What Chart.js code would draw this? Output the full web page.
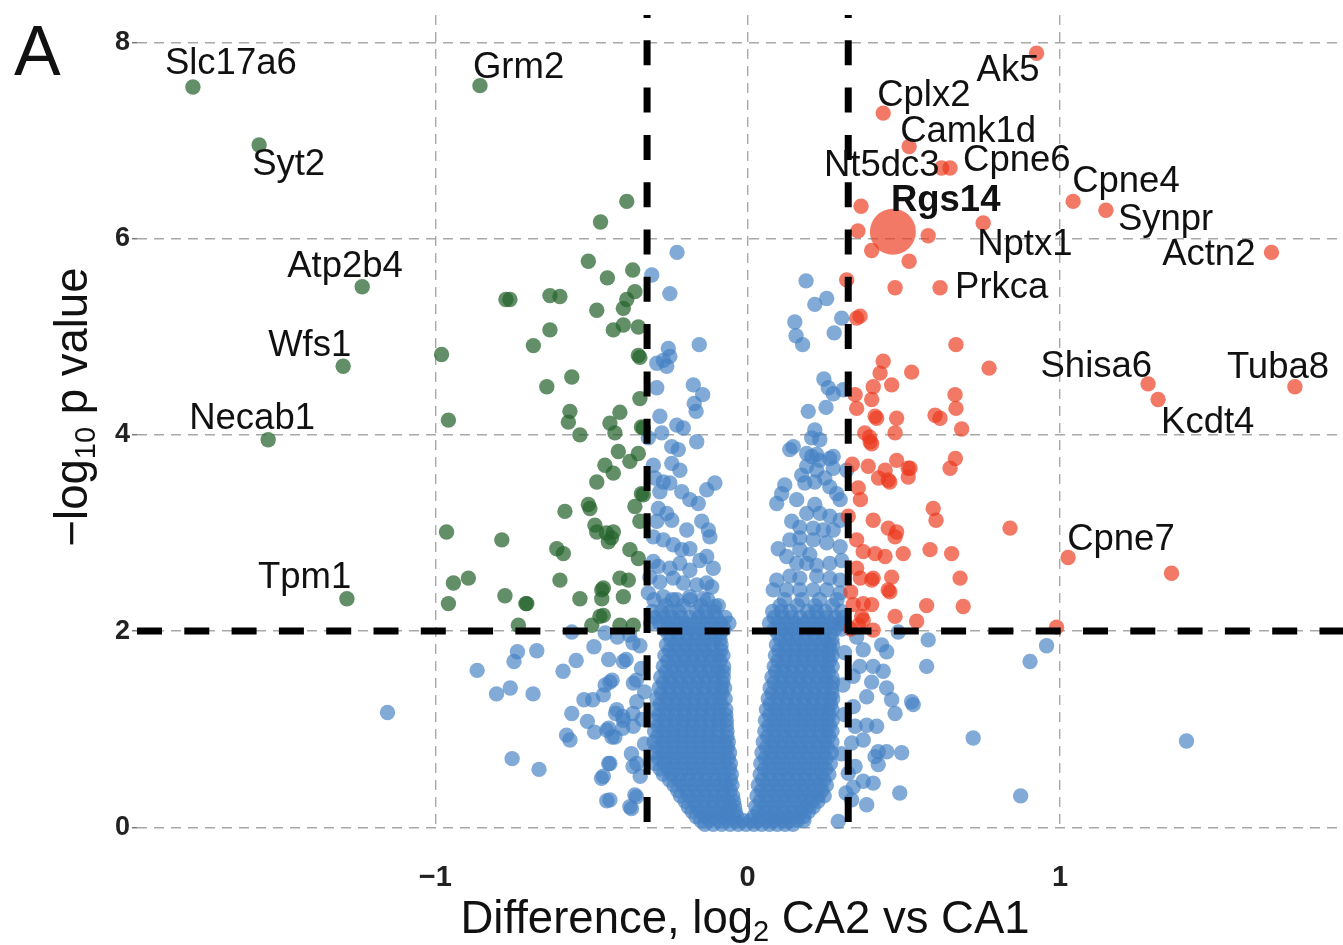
<!DOCTYPE html>
<html>
<head>
<meta charset="utf-8">
<script src="https://cdn.jsdelivr.net/npm/chart.js@4.4.1/dist/chart.umd.min.js"></script>
<style>
html,body{margin:0;padding:0;background:#fff;}
canvas{display:block;}
</style>
</head>
<body>
<canvas id="c" width="1343" height="945"></canvas>
<script>
// ---------------- data ----------------
const xTicks = [-1, 0, 1];
const yTicks = [0, 2, 4, 6, 8];
const xRange = [-1.955, 1.906];
const yRange = [-0.0275, 8.28];
const foldThreshold = 0.322;   // log2(1.25)
const pThreshold = 2;

// labelled genes
const geneNames = ['Slc17a6','Syt2','Atp2b4','Wfs1','Necab1','Tpm1','Grm2',
  'Ak5','Cplx2','Camk1d','Nt5dc3','Cpne6','Nptx1','Prkca','Cpne4','Synpr','Actn2',
  'Shisa6','Kcdt4','Tuba8','Cpne7'];
const geneX = [-1.776,-1.564,-1.234,-1.295,-1.535,-1.283,-0.857,
  0.925,0.434,0.517,0.621,0.648,0.754,0.616,1.042,1.147,1.677,
  1.282,1.314,1.752,1.026];
const geneY = [7.546,6.955,5.51,4.70,3.95,2.33,7.56,
  7.89,7.28,6.94,6.72,6.72,6.16,5.50,6.38,6.29,5.86,
  4.52,4.36,4.49,2.75];
const highlightName = 'Rgs14';
const highlightX = 0.465;
const highlightY = 6.07;

// significant, higher in CA2 (red)
const upPoints = [
 [0.363,6.33],[0.353,6.08],[0.578,6.03],[0.517,5.77],[0.472,5.50],[0.397,5.88],[0.317,5.58],
 [0.349,5.19],[0.36,5.21],[0.525,4.64],[0.434,4.75],[0.424,4.63],[0.402,4.49],[0.461,4.51],
 [0.344,4.41],[0.397,4.36],[0.349,4.27],[0.408,4.19],[0.477,4.17],[0.375,4.02],[0.392,3.93],
 [0.472,4.02],[0.386,3.68],[0.477,3.74],[0.44,3.64],[0.514,3.66],[0.45,3.54],[0.419,3.56],
 [0.52,3.66],[0.354,3.46],[0.361,3.34],[0.322,3.17],[0.402,3.13],[0.45,3.05],[0.477,3.01],
 [0.472,2.96],[0.349,2.93],[0.37,2.81],[0.408,2.79],[0.44,2.76],[0.498,2.79],[0.584,2.83],
 [0.653,2.79],[0.349,2.64],[0.361,2.54],[0.402,2.54],[0.397,2.52],[0.461,2.55],[0.455,2.40],
 [0.68,2.54],[0.33,2.40],[0.338,2.27],[0.37,2.28],[0.397,2.27],[0.365,2.15],[0.472,2.15],
 [0.573,2.26],[0.69,2.25],[0.541,2.10],[0.37,2.11],[0.402,2.01],[0.45,2.42],[0.664,4.41],
 [0.667,4.27],[0.600,4.20],[0.616,4.17],[0.685,4.06],[0.413,4.17],[0.39,3.98],[0.397,3.91],
 [0.665,3.76],[0.648,3.66],[0.594,3.25],[0.603,3.13],[0.455,3.52],[0.514,3.57],[0.667,4.92],
 [0.773,4.68],[0.84,3.05],[0.989,2.04],[1.357,2.59],[0.335,3.70],[0.33,2.02],[0.355,2.06]
];

// significant, higher in CA1 (green)
const downPoints = [
 [-0.387,6.38],[-0.471,6.17],[-0.510,5.77],[-0.449,5.60],[-0.368,5.68],[-0.774,5.38],[-0.761,5.38],
 [-0.633,5.42],[-0.601,5.41],[-0.483,5.27],[-0.387,5.38],[-0.361,5.46],[-0.398,5.29],[-0.43,5.07],
 [-0.398,5.12],[-0.350,5.10],[-0.633,5.07],[-0.686,4.91],[-0.350,4.81],[-0.345,4.79],[-0.563,4.59],
 [-0.643,4.49],[-0.345,4.37],[-0.569,4.24],[-0.574,4.13],[-0.537,4.00],[-0.441,4.12],[-0.409,4.23],
 [-0.425,4.02],[-0.334,4.07],[-0.414,3.83],[-0.377,3.73],[-0.350,3.81],[-0.457,3.69],[-0.43,3.61],
 [-0.483,3.52],[-0.334,3.39],[-0.585,3.22],[-0.510,3.29],[-0.505,3.25],[-0.361,3.27],[-0.489,3.08],
 [-0.483,3.01],[-0.43,3.01],[-0.446,2.91],[-0.345,3.12],[-0.611,2.84],[-0.590,2.79],[-0.377,2.83],
 [-0.35,2.74],[-0.601,2.52],[-0.409,2.54],[-0.382,2.52],[-0.467,2.42],[-0.467,2.33],[-0.398,2.35],
 [-0.537,2.33],[-0.707,2.28],[-0.473,2.15],[-0.499,2.06],[-0.409,2.06],[-0.366,2.06],[-0.980,4.82],
 [-0.958,4.15],[-0.964,3.01],[-0.787,2.93],[-0.942,2.49],[-0.894,2.54],[-0.958,2.28],[-0.777,2.36],
 [-0.710,2.28],[-0.734,2.06],[-0.452,3.00],[-0.436,2.95],[-0.462,2.44],[-0.462,2.16],[-0.34,4.08],
 [-0.34,3.40]
];

// not significant (blue): scattered points
const nsPoints = [
 [-0.307,5.63],[-0.249,5.44],[-0.226,5.86],[-0.254,4.88],[-0.249,4.80],[-0.291,4.73],[-0.259,4.70],
 [-0.27,4.76],[-0.155,4.92],[-0.291,4.48],[-0.174,4.51],[-0.144,4.41],[-0.171,4.32],[-0.165,4.24],
 [-0.281,4.19],[-0.227,4.10],[-0.206,4.07],[-0.275,4.02],[-0.318,3.97],[-0.243,3.88],[-0.222,3.85],
 [-0.163,3.93],
 [0.187,5.57],[0.253,5.39],[0.215,5.33],[0.301,5.19],[0.151,5.15],[0.155,5.01],[0.176,4.92],
 [0.277,5.04],[0.244,4.57],[0.258,4.48],[0.274,4.42],[0.306,4.46],[0.251,4.28],[0.194,4.24],
 [0.215,4.05],[0.205,3.97],[0.231,3.95],[0.146,3.88],[0.189,3.81],[0.221,3.80],[0.274,3.78],
 [-0.302,3.69],[-0.243,3.71],[-0.217,3.64],[-0.297,3.56],[-0.27,3.52],[-0.249,3.51],[-0.281,3.42],
 [-0.211,3.42],[-0.185,3.34],[-0.158,3.30],[-0.131,3.44],[-0.105,3.51],[-0.286,3.25],[-0.259,3.20],
 [-0.243,3.13],[-0.291,3.12],[-0.195,3.03],[-0.147,3.12],[-0.126,3.03],[-0.121,2.96],[-0.302,2.96],
 [-0.27,2.93],[-0.238,2.88],[-0.211,2.83],[-0.185,2.84],[-0.153,2.72],[-0.131,2.76],[-0.110,2.64],
 [-0.302,2.71],[-0.286,2.66],[-0.249,2.64],[-0.217,2.69],[-0.185,2.62],[-0.313,2.55],[-0.281,2.50],
 [-0.238,2.54],[-0.206,2.49],[-0.163,2.47],[-0.131,2.49],[-0.115,2.45],[-0.318,2.39],[-0.27,2.35],
 [-0.227,2.32],[-0.185,2.35],[-0.142,2.33],[-0.105,2.25],
 [0.135,3.85],[0.205,3.78],[0.231,3.74],[0.263,3.76],[0.189,3.68],[0.221,3.64],[0.274,3.66],
 [0.317,3.64],[0.173,3.59],[0.183,3.51],[0.215,3.52],[0.247,3.56],[0.263,3.47],[0.285,3.40],
 [0.296,3.34],[0.119,3.49],[0.109,3.40],[0.093,3.30],[0.157,3.34],[0.215,3.29],[0.189,3.20],
 [0.231,3.20],[0.263,3.17],[0.296,3.13],[0.141,3.12],[0.167,3.06],[0.21,3.05],[0.242,3.03],
 [0.274,3.03],[0.098,2.84],[0.135,2.93],[0.167,2.95],[0.21,2.93],[0.253,2.90],[0.296,2.86],
 [0.167,2.83],[0.199,2.78],[0.125,2.76],[0.157,2.69],[0.189,2.69],[0.221,2.67],[0.263,2.69],
 [0.301,2.72],[0.093,2.52],[0.135,2.56],[0.167,2.54],[0.221,2.56],[0.263,2.54],[0.296,2.52],
 [0.082,2.42],[0.125,2.42],[0.167,2.42],[0.21,2.42],[0.253,2.42],[0.296,2.39],
 [-1.153,1.17],[-0.866,1.60],[-0.737,1.79],[-0.748,1.69],[-0.675,1.80],[-0.804,1.36],[-0.760,1.42],
 [-0.687,1.36],[-0.754,0.70],[-0.668,0.59],[-0.591,1.59],[-0.549,1.70],[-0.563,1.99],[-0.492,1.84],
 [-0.445,1.71],[-0.456,1.98],[-0.417,1.94],[-0.524,1.30],[-0.496,1.30],[-0.563,1.16],[-0.513,1.08],
 [-0.490,0.97],[-0.580,0.94],[-0.569,0.89],[-0.456,1.45],[-0.434,1.50],[-0.462,1.35],[-0.445,1.01],
 [-0.434,0.92],[-0.40,1.01],[-0.423,1.16],[-0.40,1.13],[-0.445,0.65],[-0.468,0.50],[-0.451,0.27],
 [-0.372,0.19],[-0.356,0.31],[-0.372,0.75],[-0.367,0.62],[-0.344,0.52],[-0.378,1.96],[-0.367,1.88],
 [-0.389,1.71],[-0.356,1.50],[-0.367,1.16],[-0.398,1.69],[-0.441,1.48],[-0.419,1.20],[-0.398,1.09],
 [-0.451,0.99],[-0.425,0.92],[-0.366,1.03],[-0.355,0.65],[-0.441,0.65],[-0.462,0.52],[-0.441,0.28],
 [-0.377,0.21],[-0.361,0.33],[-0.366,1.47],[-0.355,1.28],[-0.345,1.85],[-0.34,1.62],[-0.33,1.38],
 [-0.338,1.10],[-0.33,0.85],
 [0.957,1.85],[0.904,1.69],[0.722,0.91],[0.874,0.32],[1.405,0.88],[0.578,1.91],[0.573,1.64],
 [0.525,1.28],[0.53,1.25],[0.487,0.35],[0.429,1.86],[0.445,1.79],[0.402,1.64],[0.434,1.59],
 [0.397,1.48],[0.445,1.42],[0.461,1.30],[0.472,1.16],[0.381,1.33],[0.381,1.04],[0.413,1.03],
 [0.37,0.89],[0.418,0.77],[0.445,0.77],[0.493,0.76],[0.408,0.72],[0.418,0.64],[0.37,0.47],
 [0.402,0.45],[0.381,0.23],[0.338,0.41],[0.333,0.28],[0.29,0.06],[0.349,1.94],[0.37,1.81],
 [0.359,1.64],[0.338,1.54],[0.338,1.23],[0.344,1.03],[0.333,0.86],[0.344,0.62],[0.322,0.55],
 [0.482,1.99],[0.31,1.78],[0.305,1.45],[0.31,1.15],[0.30,0.75],[0.315,0.35]
];

// not significant (blue): dense core, read row by row  [y, x values]
const nsCoreLeft = [
 [2.32,[-0.3,-0.241,-0.184,-0.128]],
 [2.26,[-0.262,-0.206,-0.15,-0.094]],
 [2.20,[-0.305,-0.276,-0.248,-0.22,-0.164,-0.136,-0.108]],
 [2.14,[-0.296,-0.268,-0.24,-0.212,-0.184,-0.156,-0.128,-0.1,-0.072]],
 [2.08,[-0.31,-0.282,-0.254,-0.226,-0.198,-0.17,-0.142,-0.114,-0.086,-0.06]],
 [2.02,[-0.268,-0.24,-0.212,-0.184,-0.156,-0.128,-0.1,-0.075]],
 [1.97,[-0.254,-0.226,-0.198,-0.17,-0.143,-0.116,-0.089]],
 [1.915,[-0.246,-0.218,-0.19,-0.162,-0.134,-0.106,-0.088]],
 [1.86,[-0.26,-0.232,-0.203,-0.175,-0.147,-0.119,-0.085]],
 [1.805,[-0.25,-0.222,-0.194,-0.166,-0.138,-0.11,-0.085]],
 [1.75,[-0.265,-0.237,-0.208,-0.18,-0.152,-0.124,-0.097,-0.079]],
 [1.695,[-0.256,-0.228,-0.2,-0.172,-0.144,-0.116,-0.088]],
 [1.64,[-0.27,-0.242,-0.213,-0.185,-0.157,-0.129,-0.101,-0.077]],
 [1.585,[-0.262,-0.234,-0.206,-0.178,-0.15,-0.122,-0.094,-0.078]],
 [1.53,[-0.278,-0.25,-0.221,-0.193,-0.165,-0.137,-0.108,-0.078]],
 [1.475,[-0.27,-0.242,-0.214,-0.186,-0.158,-0.13,-0.102,-0.08]],
 [1.42,[-0.283,-0.255,-0.226,-0.198,-0.17,-0.142,-0.113,-0.085,-0.074]],
 [1.365,[-0.276,-0.248,-0.22,-0.192,-0.164,-0.136,-0.108,-0.082]],
 [1.31,[-0.29,-0.261,-0.232,-0.204,-0.176,-0.148,-0.12,-0.092,-0.072]],
 [1.255,[-0.28,-0.252,-0.224,-0.196,-0.168,-0.14,-0.112,-0.084]],
 [1.20,[-0.293,-0.264,-0.235,-0.207,-0.179,-0.151,-0.123,-0.095,-0.07]],
 [1.145,[-0.284,-0.256,-0.228,-0.2,-0.172,-0.144,-0.116,-0.088,-0.07]],
 [1.09,[-0.296,-0.267,-0.238,-0.21,-0.182,-0.154,-0.126,-0.097,-0.068]],
 [1.035,[-0.286,-0.258,-0.23,-0.202,-0.174,-0.146,-0.118,-0.09,-0.068]],
 [0.98,[-0.298,-0.27,-0.241,-0.213,-0.185,-0.157,-0.129,-0.1,-0.066]],
 [0.925,[-0.288,-0.26,-0.232,-0.204,-0.176,-0.148,-0.12,-0.092,-0.066]],
 [0.87,[-0.3,-0.271,-0.243,-0.215,-0.187,-0.159,-0.131,-0.103,-0.075,-0.062]],
 [0.815,[-0.288,-0.26,-0.232,-0.204,-0.176,-0.148,-0.12,-0.092,-0.064]],
 [0.76,[-0.298,-0.27,-0.242,-0.214,-0.186,-0.158,-0.13,-0.102,-0.074,-0.058]],
 [0.705,[-0.286,-0.258,-0.23,-0.202,-0.174,-0.146,-0.118,-0.09,-0.062]],
 [0.65,[-0.296,-0.268,-0.24,-0.212,-0.184,-0.156,-0.128,-0.1,-0.073,-0.055]],
 [0.595,[-0.28,-0.255,-0.228,-0.2,-0.172,-0.144,-0.116,-0.088,-0.058]],
 [0.54,[-0.27,-0.242,-0.214,-0.186,-0.158,-0.13,-0.102,-0.075,-0.052]],
 [0.485,[-0.25,-0.222,-0.194,-0.166,-0.138,-0.11,-0.082,-0.056]],
 [0.43,[-0.236,-0.208,-0.18,-0.152,-0.124,-0.096,-0.07,-0.05]],
 [0.375,[-0.224,-0.196,-0.168,-0.14,-0.112,-0.084,-0.056]],
 [0.32,[-0.215,-0.187,-0.159,-0.131,-0.103,-0.076,-0.048]],
 [0.265,[-0.2,-0.172,-0.144,-0.116,-0.088,-0.062,-0.045]],
 [0.21,[-0.19,-0.163,-0.135,-0.108,-0.081,-0.056,-0.042]],
 [0.16,[-0.178,-0.15,-0.122,-0.094,-0.068,-0.04]],
 [0.11,[-0.165,-0.138,-0.111,-0.084,-0.058,-0.035]],
 [0.07,[-0.15,-0.122,-0.094,-0.066,-0.04,-0.015,0.01,0.035,0.06,0.085]],
 [0.03,[-0.137,-0.11,-0.083,-0.056,-0.03,-0.005,0.02,0.045,0.07]]
];
const nsCoreRight = [
 [2.32,[0.118,0.174,0.23,0.286]],
 [2.26,[0.104,0.16,0.216,0.272]],
 [2.20,[0.08,0.108,0.136,0.192,0.22,0.248,0.3]],
 [2.14,[0.085,0.113,0.141,0.169,0.197,0.225,0.253,0.281,0.305]],
 [2.08,[0.07,0.098,0.126,0.154,0.182,0.21,0.238,0.266,0.295,0.31]],
 [2.02,[0.085,0.111,0.139,0.167,0.195,0.223,0.251,0.279,0.3]],
 [1.97,[0.097,0.125,0.153,0.181,0.209,0.237,0.265]],
 [1.915,[0.105,0.133,0.161,0.189,0.217,0.245,0.27]],
 [1.86,[0.092,0.12,0.148,0.176,0.204,0.232,0.26,0.272]],
 [1.805,[0.1,0.128,0.156,0.184,0.212,0.24,0.265]],
 [1.75,[0.089,0.117,0.145,0.173,0.201,0.229,0.257,0.27]],
 [1.695,[0.097,0.125,0.153,0.181,0.209,0.237,0.262]],
 [1.64,[0.085,0.113,0.141,0.169,0.197,0.225,0.253,0.271]],
 [1.585,[0.09,0.118,0.146,0.174,0.202,0.23,0.258]],
 [1.53,[0.078,0.106,0.134,0.162,0.19,0.218,0.246,0.27]],
 [1.475,[0.085,0.113,0.141,0.169,0.197,0.225,0.253,0.272]],
 [1.42,[0.072,0.1,0.128,0.156,0.184,0.212,0.24,0.268]],
 [1.365,[0.078,0.106,0.134,0.162,0.19,0.218,0.246,0.27]],
 [1.31,[0.066,0.094,0.122,0.15,0.178,0.206,0.234,0.262,0.272]],
 [1.255,[0.072,0.1,0.128,0.156,0.184,0.212,0.24,0.265]],
 [1.20,[0.06,0.088,0.116,0.144,0.172,0.2,0.228,0.256,0.27]],
 [1.145,[0.07,0.098,0.126,0.154,0.182,0.21,0.238,0.262]],
 [1.09,[0.057,0.085,0.113,0.141,0.169,0.197,0.225,0.253,0.271]],
 [1.035,[0.068,0.096,0.124,0.152,0.18,0.208,0.236,0.262]],
 [0.98,[0.055,0.083,0.111,0.139,0.167,0.195,0.223,0.251,0.27]],
 [0.925,[0.064,0.092,0.12,0.148,0.176,0.204,0.232,0.26]],
 [0.87,[0.05,0.078,0.106,0.134,0.162,0.19,0.218,0.246,0.27]],
 [0.815,[0.06,0.088,0.116,0.144,0.172,0.2,0.228,0.256]],
 [0.76,[0.046,0.074,0.102,0.13,0.158,0.186,0.214,0.242,0.268]],
 [0.705,[0.056,0.084,0.112,0.14,0.168,0.196,0.224,0.252]],
 [0.65,[0.042,0.07,0.098,0.126,0.154,0.182,0.21,0.238,0.265]],
 [0.595,[0.054,0.082,0.11,0.138,0.166,0.194,0.222,0.25]],
 [0.54,[0.04,0.068,0.096,0.124,0.152,0.18,0.208,0.236,0.26]],
 [0.485,[0.048,0.076,0.104,0.132,0.16,0.188,0.216,0.244]],
 [0.43,[0.034,0.062,0.09,0.118,0.146,0.174,0.202,0.23,0.252]],
 [0.375,[0.044,0.072,0.1,0.128,0.156,0.184,0.212,0.238]],
 [0.32,[0.03,0.058,0.086,0.114,0.142,0.17,0.198,0.226,0.245]],
 [0.265,[0.04,0.068,0.096,0.124,0.152,0.18,0.205,0.225]],
 [0.21,[0.026,0.054,0.082,0.11,0.138,0.166,0.19,0.21]],
 [0.16,[0.034,0.062,0.09,0.118,0.146,0.172,0.195]],
 [0.11,[0.02,0.048,0.076,0.104,0.132,0.16,0.18]],
 [0.07,[0.11,0.135,0.16,0.18]],
 [0.03,[0.095,0.12,0.145]]
];

// ---------------- styling ----------------
const FONT = '"Liberation Sans", Arial, Helvetica, sans-serif';
const BLUE = 'rgba(70,130,196,0.68)';
const GREEN = 'rgba(38,100,45,0.72)';
const RED = 'rgba(236,58,30,0.68)';
const labelStyle = {
  Slc17a6:[-28,-13,'left'], Syt2:[-7,30,'left'], Atp2b4:[-75,-10,'left'], Wfs1:[-75,-10,'left'],
  Necab1:[-79,-11,'left'], Tpm1:[-89,-11,'left'], Grm2:[-7,-8,'left'], Ak5:[-60,28,'left'],
  Cplx2:[-6,-7,'left'], Camk1d:[-9,-4,'left'], Nt5dc3:[-2,8,'right'], Cpne6:[13,3,'left'],
  Nptx1:[-6,32,'left'], Prkca:[15,10,'left'], Cpne4:[-1,-9,'left'], Synpr:[12,20,'left'],
  Actn2:[-16,13,'right'], Shisa6:[4,-7,'right'], Kcdt4:[3,33,'left'], Tuba8:[-68,-9,'left'],
  Cpne7:[-1,-8,'left'], Rgs14:[-2,-21,'left']
};

const toXY = arr => arr.map(([x, y]) => ({x, y}));
const rowsToXY = rows => rows.flatMap(([y, xs]) => xs.map(x => ({x, y})));
const nsData = [...rowsToXY(nsCoreLeft), ...rowsToXY(nsCoreRight), ...toXY(nsPoints)];
const geneData = geneNames.map((n, i) => ({x: geneX[i], y: geneY[i], name: n}));

const lineDs = (data, offset) => ({
  type: 'line', data, borderColor: '#000', borderWidth: 7, borderDash: [25, 22.3],
  borderDashOffset: offset, pointRadius: 0, fill: false, order: 0, clip: false, borderCapStyle: 'butt'
});

const labelPlugin = {
  id: 'geneLabels',
  afterDatasetsDraw(chart) {
    const {ctx, scales: {x, y}} = chart;
    ctx.save();
    ctx.fillStyle = '#111';
    ctx.textBaseline = 'alphabetic';
    const all = [...geneData, {x: highlightX, y: highlightY, name: highlightName}];
    all.forEach(p => {
      const st = labelStyle[p.name];
      const px = x.getPixelForValue(p.x), py = y.getPixelForValue(p.y);
      ctx.font = (p.name === highlightName ? 'bold ' : '') + '36.5px ' + FONT;
      ctx.textAlign = st[2];
      ctx.fillText(p.name, px + st[0], py + st[1]);
    });
    ctx.restore();
  }
};

const titlePlugin = {
  id: 'titles',
  afterDraw(chart) {
    const ctx = chart.ctx;
    ctx.save();
    ctx.fillStyle = '#111';
    ctx.textBaseline = 'alphabetic';
    ctx.textAlign = 'left';
    ctx.font = '70px ' + FONT;
    ctx.fillText('A', 14, 75);
    const drawSub = (parts, cx, cy) => {
      let w = 0;
      parts.forEach(pt => { ctx.font = pt[1] + 'px ' + FONT; w += ctx.measureText(pt[0]).width; });
      let xx = cx - w / 2;
      parts.forEach(pt => {
        ctx.font = pt[1] + 'px ' + FONT;
        ctx.fillText(pt[0], xx, cy + pt[2]);
        xx += ctx.measureText(pt[0]).width;
      });
    };
    drawSub([['Difference, log', 45.5, 0], ['2', 29, 8], [' CA2 vs CA1', 45.5, 0]], 745, 933);
    ctx.translate(87, 407);
    ctx.rotate(-Math.PI / 2);
    drawSub([['\u2212log', 45.5, 0], ['10', 29, 8], [' p value', 45.5, 0]], 0, 0);
    ctx.restore();
  }
};

const noPad = s => { s.paddingLeft = 0; s.paddingRight = 0; s.paddingTop = 0; s.paddingBottom = 0; };

new Chart(document.getElementById('c'), {
  type: 'scatter',
  data: {
    datasets: [
      lineDs([{x: -foldThreshold, y: yRange[1]}, {x: -foldThreshold, y: yRange[0]}], 22),
      lineDs([{x: foldThreshold, y: yRange[1]}, {x: foldThreshold, y: yRange[0]}], 22),
      lineDs([{x: xRange[0], y: pThreshold}, {x: xRange[1], y: pThreshold}], 0),
      {data: [{x: highlightX, y: highlightY}], backgroundColor: RED, pointRadius: 23, borderWidth: 0, order: 1, clip: false},
      {data: geneData, backgroundColor: geneData.map(p => p.x > 0 ? RED : GREEN), pointRadius: 7.7, borderWidth: 0, order: 2, clip: false},
      {data: toXY(upPoints), backgroundColor: RED, pointRadius: 7.7, borderWidth: 0, order: 3, clip: false},
      {data: toXY(downPoints), backgroundColor: GREEN, pointRadius: 7.7, borderWidth: 0, order: 4, clip: false},
      {data: nsData, backgroundColor: BLUE, pointRadius: 7.7, borderWidth: 0, order: 5, clip: false}
    ]
  },
  options: {
    responsive: false,
    animation: false,
    events: [],
    devicePixelRatio: 1,
    layout: {autoPadding: false, padding: {top: 15, right: 0, left: 0, bottom: 0}},
    plugins: {legend: {display: false}, tooltip: {enabled: false}},
    elements: {point: {hoverRadius: 0, borderWidth: 0}},
    scales: {
      x: {
        type: 'linear', min: xRange[0], max: xRange[1],
        afterBuildTicks: s => { s.ticks = xTicks.map(v => ({value: v})); },
        afterFit: s => { s.height = 115; noPad(s); },
        grid: {color: '#a8a8a8', lineWidth: 1.4, drawTicks: false},
        border: {display: false, dash: [10, 7]},
        ticks: {color: '#222', font: {family: FONT, size: 29, weight: 'bold'}, padding: 31, maxRotation: 0,
          callback: v => v < 0 ? '\u2212' + Math.abs(v) : String(v)}
      },
      y: {
        type: 'linear', min: yRange[0], max: yRange[1],
        afterBuildTicks: s => { s.ticks = yTicks.map(v => ({value: v})); },
        afterFit: s => { s.width = 137; noPad(s); },
        grid: {color: '#a8a8a8', lineWidth: 1.4, tickLength: 5, tickColor: '#777', tickWidth: 1.5},
        border: {display: false, dash: [10, 7]},
        ticks: {color: '#222', font: {family: FONT, size: 27, weight: 'bold'}, padding: 2}
      }
    }
  },
  plugins: [labelPlugin, titlePlugin]
});
</script>
</body>
</html>
